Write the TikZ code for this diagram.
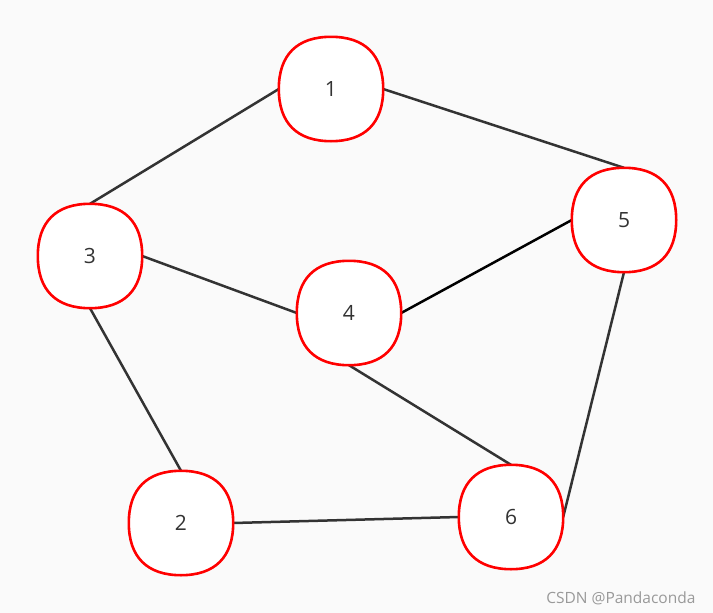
\documentclass[tikz,border=0pt]{standalone}
\usepackage{fontspec}
\setmainfont{Open Sans}
\usetikzlibrary{backgrounds}
\begin{document}
\begin{tikzpicture}[x=1pt,y=-1pt,
  vnode/.style={minimum width=104pt, minimum height=104pt, inner sep=0pt,
    font=\fontsize{21}{24}\selectfont, text=black!80},
  ring/.style={draw=red, fill=white, line width=2.6pt},
  edge/.style={draw=black!80, line width=2.5pt}]
\node[vnode] (n1) at (331,89) {1};
\node[vnode] (n3) at (90,256) {3};
\node[vnode] (n4) at (349,313) {4};
\node[vnode] (n5) at (624,220) {5};
\node[vnode] (n2) at (181,523) {2};
\node[vnode] (n6) at (511,517) {6};
\node[anchor=east, text=black!40, font=\fontsize{15.5}{17}\selectfont] (wm) at (699,598) {CSDN @Pandaconda};
\begin{pgfonlayer}{background}
\fill[black!2] (0,0) rectangle (713,613);
\draw[edge] (n1.west) -- (n3.north);
\draw[edge] (n1.east) -- (n5.north);
\draw[edge] (n3.east) -- (n4.west);
\draw[edge, draw=black] (n4.east) -- (n5.west);
\draw[edge] (n3.south) -- (n2.north);
\draw[edge] (n4.south) -- (n6.north);
\draw[edge] (n5.south) -- (n6.east);
\draw[edge] (n2.east) -- (n6.west);
\foreach \n in {n1,n2,n3,n4,n5,n6} {
  \draw[ring] (\n.north)
    .. controls ([xshift=34pt]\n.north) and ([yshift=34pt]\n.east) .. (\n.east)
    .. controls ([yshift=-34pt]\n.east) and ([xshift=34pt]\n.south) .. (\n.south)
    .. controls ([xshift=-34pt]\n.south) and ([yshift=-34pt]\n.west) .. (\n.west)
    .. controls ([yshift=34pt]\n.west) and ([xshift=-34pt]\n.north) .. (\n.north) -- cycle;
}
\end{pgfonlayer}
\useasboundingbox (0,0) rectangle (713,613);
\end{tikzpicture}
\end{document}
